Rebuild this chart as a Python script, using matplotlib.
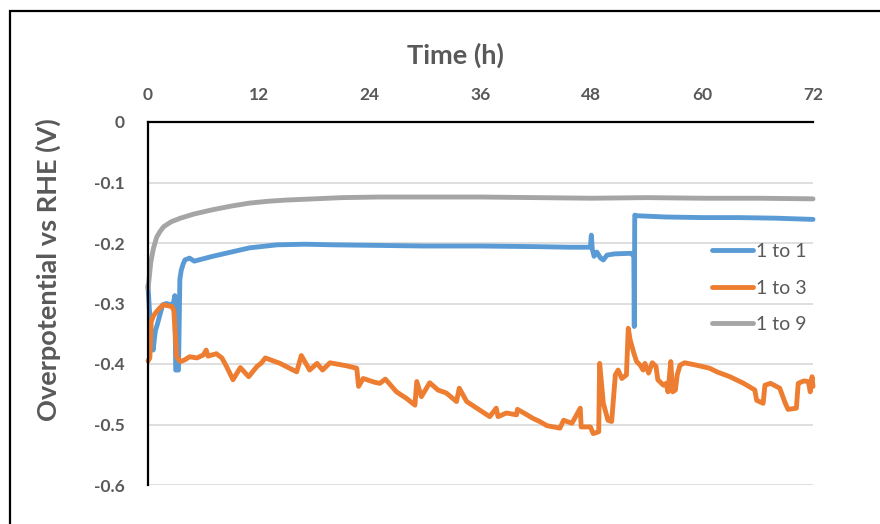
import matplotlib
matplotlib.use("Agg")
import matplotlib.pyplot as plt
from matplotlib.patches import Rectangle

# Time (h) and overpotential (V) for each electrolyte ratio
t_1to1 = [0, 0.15, 0.35, 0.55, 0.8, 1.0, 1.3, 1.6, 2.0, 2.4, 2.75, 2.9, 3.0, 3.3,
          3.45, 3.6, 3.8, 4.0, 4.5, 5.0, 5.5, 7, 9, 11, 14, 17, 20, 25, 30, 36, 42,
          45.7, 47.9, 48.0, 48.1, 48.3, 48.6, 49.0, 49.3, 49.7, 50.5, 52.3, 52.6,
          52.65, 52.7, 53.0, 56, 60, 64, 68, 72]
v_1to1 = [-0.27, -0.31, -0.35, -0.377, -0.345, -0.335, -0.318, -0.302, -0.300, -0.302,
          -0.300, -0.287, -0.410, -0.410, -0.260, -0.245, -0.235, -0.228, -0.225, -0.230,
          -0.228, -0.222, -0.215, -0.208, -0.203, -0.202, -0.203, -0.204, -0.205, -0.205,
          -0.206, -0.207, -0.207, -0.187, -0.210, -0.222, -0.215, -0.225, -0.228, -0.220,
          -0.218, -0.217, -0.222, -0.338, -0.154, -0.155, -0.157, -0.158, -0.158, -0.159,
          -0.161]

t_1to3 = [0, 0.2, 0.35, 0.6, 0.95, 1.3, 1.7, 2.2, 2.6, 2.8, 3.1, 3.5, 4.0, 4.5, 5.3,
          6.0, 6.3, 6.5, 7.4, 8.0, 8.5, 9.2, 10, 10.9, 11.8, 12.3, 12.7, 14.3, 16.1,
          16.6, 17.5, 18.3, 18.9, 19.7, 21.5, 22.6, 22.8, 23.3, 24.5, 25.1, 25.7, 26.9,
          28, 28.9, 29.1, 29.6, 30.5, 31.4, 32.3, 33.4, 33.7, 34.5, 35.9, 37, 37.7,
          37.9, 38.8, 39.9, 40.0, 40.7, 41.7, 42.4, 43.2, 44.6, 45, 45.9, 46.8, 46.9,
          47.9, 48.2, 48.8, 48.9, 49.3, 49.8, 50.2, 50.6, 50.9, 51.3, 51.8, 52.0, 52.2,
          52.6, 52.9, 53.3, 53.6, 53.8, 54.2, 54.6, 55.0, 55.2, 55.8, 56.1, 56.3, 56.6,
          56.8, 57.1, 57.3, 57.6, 58.1, 59.4, 60.8, 61.6, 63, 64.5, 65.7, 65.9, 66.6,
          66.8, 67.4, 68.4, 69.0, 69.3, 70.2, 70.4, 71.0, 71.5, 71.7, 71.9, 72]
v_1to3 = [-0.395, -0.390, -0.330, -0.320, -0.313, -0.307, -0.302, -0.304, -0.305, -0.312,
          -0.388, -0.396, -0.393, -0.388, -0.390, -0.385, -0.377, -0.387, -0.383, -0.390,
          -0.404, -0.426, -0.406, -0.421, -0.404, -0.398, -0.390, -0.399, -0.413, -0.386,
          -0.410, -0.399, -0.410, -0.398, -0.403, -0.407, -0.437, -0.424, -0.430, -0.432,
          -0.425, -0.446, -0.457, -0.468, -0.429, -0.454, -0.431, -0.443, -0.448, -0.462,
          -0.440, -0.462, -0.476, -0.487, -0.473, -0.487, -0.481, -0.484, -0.475, -0.481,
          -0.490, -0.495, -0.502, -0.506, -0.493, -0.498, -0.473, -0.504, -0.504, -0.515,
          -0.512, -0.399, -0.465, -0.493, -0.495, -0.418, -0.410, -0.424, -0.418, -0.341,
          -0.360, -0.382, -0.396, -0.402, -0.410, -0.399, -0.415, -0.398, -0.404, -0.426,
          -0.435, -0.432, -0.446, -0.396, -0.446, -0.443, -0.418, -0.402, -0.398, -0.402,
          -0.407, -0.413, -0.421, -0.432, -0.443, -0.460, -0.465, -0.435, -0.432, -0.440,
          -0.465, -0.475, -0.473, -0.432, -0.428, -0.429, -0.446, -0.421, -0.437]

t_1to9 = [0, 0.1, 0.3, 0.6, 0.95, 1.3, 1.7, 2.5, 3.5, 5, 7, 9, 11, 13, 15, 18, 21,
          25, 30, 36, 42, 48, 54, 60, 66, 72]
v_1to9 = [-0.275, -0.262, -0.232, -0.208, -0.190, -0.181, -0.173, -0.165, -0.159,
          -0.152, -0.145, -0.139, -0.134, -0.131, -0.129, -0.127, -0.125, -0.124,
          -0.124, -0.124, -0.125, -0.126, -0.125, -0.126, -0.126, -0.127]

series_labels = ["1 to 1", "1 to 3", "1 to 9"]
series_colors = ["#5B9BD5", "#ED7D31", "#A5A5A5"]
x_ticks = [0, 12, 24, 36, 48, 60, 72]
y_ticks = [0, -0.1, -0.2, -0.3, -0.4, -0.5, -0.6]
y_tick_labels = ["0", "-0.1", "-0.2", "-0.3", "-0.4", "-0.5", "-0.6"]

plt.rcParams["font.family"] = ["Lato", "DejaVu Sans"]
text_grey = "#595959"

W, H = 880, 524
fig = plt.figure(figsize=(W / 100, H / 100), dpi=100)
ax = fig.add_axes([148 / W, 1 - 485 / H, (813 - 148) / W, (485 - 122) / H])

for t, v, lab, col in zip([t_1to1, t_1to3, t_1to9], [v_1to1, v_1to3, v_1to9],
                          series_labels, series_colors):
    ax.plot(t, v, color=col, lw=3.5, label=lab, solid_joinstyle="round",
            solid_capstyle="round", clip_on=False)

ax.set_xlim(0, 72)
ax.set_ylim(-0.6, 0)
ax.xaxis.tick_top()
ax.xaxis.set_label_position("top")
ax.set_xticks(x_ticks)
ax.set_xticklabels([str(x) for x in x_ticks])
ax.set_yticks(y_ticks)
ax.set_yticklabels(y_tick_labels)
ax.tick_params(axis="both", length=0, labelsize=12.5, labelcolor=text_grey)
ax.tick_params(axis="x", pad=14)
ax.tick_params(axis="y", pad=17)
for lbl in ax.get_xticklabels() + ax.get_yticklabels():
    lbl.set_fontweight("bold")

ax.grid(axis="y", color="#D9D9D9", lw=1.2)
ax.set_axisbelow(True)
for side in ("right", "bottom"):
    ax.spines[side].set_visible(False)
for side in ("top", "left"):
    ax.spines[side].set_color("black")
    ax.spines[side].set_linewidth(1.6)

ax.set_xlabel("Time (h)", fontsize=19.5, fontweight="bold", color=text_grey)
ax.xaxis.set_label_coords((455 - 148) / 665, (485 - 64) / 363)
ax.set_ylabel("Overpotential vs RHE (V)", fontsize=19.5, fontweight="bold", color=text_grey)
ax.yaxis.set_label_coords((61 - 148) / 665, (485 - 270) / 363)

leg = ax.legend(loc="center left", bbox_to_anchor=(712 / W, 1 - 288 / H),
                bbox_transform=fig.transFigure, frameon=False, fontsize=14,
                handlelength=2.1, handletextpad=0.15, labelspacing=1.0,
                borderpad=0, borderaxespad=0)
for txt in leg.get_texts():
    txt.set_color(text_grey)

# Outer chart border
fig.add_artist(Rectangle((10 / W, -0.1), 2.0, 1.1 - 11 / H, transform=fig.transFigure,
                         fill=False, edgecolor="black", lw=1.6))

fig.savefig("out.png", dpi=100)
